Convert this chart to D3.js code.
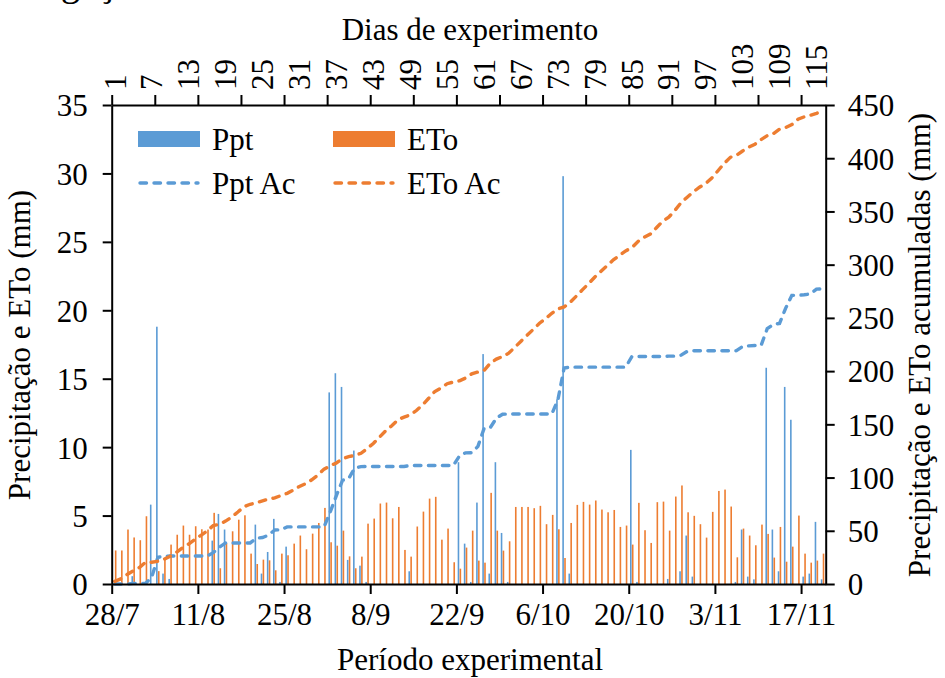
<!DOCTYPE html>
<html>
<head>
<meta charset="utf-8">
<script src="https://cdn.jsdelivr.net/npm/d3@7"></script>
<style>
  html, body { margin: 0; padding: 0; background: #fff; }
  svg { display: block; }
  text { font-family: "Liberation Serif", "Times New Roman", serif; fill: #000; }
</style>
</head>
<body>
<svg id="chart" width="945" height="678"></svg>
<script>
// Daily precipitation (mm), 28/7 to 20/11
const ppt = [
  0, 0, 0, 0.57, 0, 0, 5.8, 18.8, 0.76, 0.37,
  0, 0, 0, 0, 0, 0, 3.17, 5.12, 3.98, 0,
  0, 0, 0, 4.34, 0.76, 2.34, 4.76, 0.15, 2.73, 0,
  0, 0, 0, 0, 0, 14.0, 15.4, 14.4, 1.76, 9.75,
  1.34, 0.15, 0, 0, 0, 0, 0, 0, 0.93, 0,
  0, 0, 0, 0, 0, 0, 8.9, 2.95, 0.15, 5.95,
  16.8, 0.76, 8.9, 3.73, 0.15, 0, 0, 0, 0, 0,
  0, 0, 13.5, 29.8, 0.76, 0, 0, 0, 0, 0,
  0, 0, 0, 0, 9.8, 0.15, 0, 0, 0, 0,
  0.37, 0, 0.93, 3.54, 0.54, 0, 0, 0, 0, 0,
  0, 0.15, 3.98, 0.54, 0.34, 0, 15.8, 3.98, 0.93, 14.4,
  12.0, 0, 0.54, 0.76, 4.54, 0.34
];

// Daily reference evapotranspiration (mm)
const eto = [
  2.45, 2.45, 3.98, 3.4, 3.2, 4.95, 0, 0.94, 1.83, 2.88,
  3.6, 4.27, 3.6, 4.22, 4.0, 3.98, 5.2, 1.15, 3.0, 3.85,
  4.7, 5.02, 2.22, 1.46, 1.78, 1.73, 1.0, 2.22, 2.1, 2.95,
  3.54, 2.54, 3.68, 4.46, 5.56, 3.05, 2.8, 3.9, 2.02, 1.15,
  2.0, 4.41, 4.78, 5.88, 5.95, 4.8, 5.63, 2.49, 2.0, 4.2,
  5.29, 6.24, 6.37, 3.24, 4.05, 1.59, 1.12, 2.66, 3.9, 1.71,
  1.56, 6.66, 3.9, 2.44, 3.12, 5.63, 5.63, 5.63, 5.54, 5.71,
  4.37, 5.05, 4.0, 1.9, 4.46, 5.78, 6.0, 5.8, 6.1, 5.44,
  5.24, 5.41, 4.17, 4.27, 2.88, 5.93, 3.93, 3.0, 5.98, 6.02,
  3.9, 6.39, 7.2, 5.24, 4.98, 4.37, 3.39, 5.27, 6.8, 6.9,
  5.66, 1.95, 4.05, 3.54, 2.83, 4.34, 3.66, 1.93, 4.17, 1.63,
  2.73, 5.0, 2.22, 1.56, 1.71, 2.22
];

// Axis tick labels
const dateTicks = ["28/7", "11/8", "25/8", "8/9", "22/9", "6/10", "20/10", "3/11", "17/11"];
const dayTicks = [1, 7, 13, 19, 25, 31, 37, 43, 49, 55, 61, 67, 73, 79, 85, 91, 97, 103, 109, 115];
const leftTicks = [0, 5, 10, 15, 20, 25, 30, 35];
const rightTicks = [0, 50, 100, 150, 200, 250, 300, 350, 400, 450];

const seriesNames = ["Ppt", "ETo", "Ppt Ac", "ETo Ac"];
const blue = "#5B9BD5", orange = "#ED7D31";

// Running totals of the daily series
const pptAc = d3.cumsum(ppt);
const etoAc = d3.cumsum(eto);

const nDays = ppt.length;
const plot = { left: 111.7, right: 825.7, top: 105, bottom: 584 };
const fs = 31;

const svg = d3.select("#chart");

// Category position (day index) and calendar date scales share the same span
const xDay = d3.scaleLinear().domain([0, nDays]).range([plot.left, plot.right]);
const start = new Date(Date.UTC(2019, 6, 28));
const end = new Date(Date.UTC(2019, 6, 28 + nDays));
const xDate = d3.scaleUtc().domain([start, end]).range([plot.left, plot.right]);
const parseTick = s => { const [d, m] = s.split("/").map(Number); return new Date(Date.UTC(2019, m - 1, d)); };

const yL = d3.scaleLinear().domain([0, 35]).range([plot.bottom, plot.top]);
const yR = d3.scaleLinear().domain([0, 450]).range([plot.bottom, plot.top]);

const center = i => xDay(i + 0.5);
const barW = 1.6;

// Bars: precipitation on the left half of each day, ETo on the right half
const bars = svg.append("g");
bars.selectAll("rect.ppt").data(ppt).join("rect")
  .attr("class", "ppt")
  .attr("x", (d, i) => center(i) - barW - 0.2)
  .attr("width", barW)
  .attr("y", d => yL(d))
  .attr("height", d => yL(0) - yL(d))
  .attr("fill", blue);
bars.selectAll("rect.eto").data(eto).join("rect")
  .attr("class", "eto")
  .attr("x", (d, i) => center(i) + 0.1)
  .attr("width", barW)
  .attr("y", d => yL(d))
  .attr("height", d => yL(0) - yL(d))
  .attr("fill", orange);

// Accumulated lines on the secondary axis
const line = d3.line().x((d, i) => center(i)).y(d => yR(d));
const dash = "6.5 7.5";
svg.append("path").datum(pptAc).attr("d", line)
  .attr("fill", "none").attr("stroke", blue).attr("stroke-width", 3.4)
  .attr("stroke-dasharray", dash).attr("stroke-linecap", "round");
svg.append("path").datum(etoAc).attr("d", line)
  .attr("fill", "none").attr("stroke", orange).attr("stroke-width", 3.4)
  .attr("stroke-dasharray", dash).attr("stroke-linecap", "round");

function styleAxis(g) {
  g.selectAll(".domain").attr("stroke", "#000").attr("stroke-width", 2);
  g.selectAll(".tick line").attr("stroke", "#000").attr("stroke-width", 2);
  g.selectAll("text").style("font-size", fs + "px").attr("fill", "#000");
}

// Left axis
svg.append("g").attr("transform", `translate(${plot.left},0)`)
  .call(d3.axisLeft(yL).tickValues(leftTicks).tickSize(9).tickPadding(15).tickSizeOuter(0))
  .call(styleAxis)
  .call(g => g.selectAll("text").attr("dy", "0.35em"));

// Right axis
svg.append("g").attr("transform", `translate(${plot.right},0)`)
  .call(d3.axisRight(yR).tickValues(rightTicks).tickSize(9).tickPadding(13).tickSizeOuter(0))
  .call(styleAxis)
  .call(g => g.selectAll("text").attr("dy", "0.35em"));

// Bottom date axis
svg.append("g").attr("transform", `translate(0,${plot.bottom})`)
  .call(d3.axisBottom(xDate).tickValues(dateTicks.map(parseTick))
    .tickFormat((d, i) => dateTicks[i]).tickSize(10).tickPadding(9).tickSizeOuter(0))
  .call(styleAxis);

// Top axis: marks every 7 days, labels every 6 days
svg.append("g").attr("transform", `translate(0,${plot.top})`)
  .call(d3.axisTop(xDay).tickValues(d3.range(0, nDays, 7)).tickFormat("").tickSize(10).tickSizeOuter(0))
  .call(styleAxis);
svg.append("g").attr("transform", `translate(0,${plot.top})`)
  .call(d3.axisTop(xDay).tickValues(dayTicks.map(d => d - 0.5)).tickFormat(d => d + 0.5).tickSize(0).tickPadding(0))
  .call(styleAxis)
  .call(g => g.select(".domain").remove())
  .call(g => g.selectAll("text")
    .attr("transform", "translate(0,-15) rotate(-90)")
    .attr("text-anchor", "start").attr("dy", "0.33em").attr("y", 0).attr("x", 0));

// Axis titles
svg.append("text").attr("x", 470).attr("y", 40).attr("text-anchor", "middle")
  .style("font-size", fs + "px").text("Dias de experimento");
svg.append("text").attr("x", 470).attr("y", 670).attr("text-anchor", "middle")
  .style("font-size", fs + "px").text("Período experimental");
svg.append("text").attr("transform", "translate(30,345) rotate(-90)").attr("text-anchor", "middle")
  .style("font-size", fs + "px").text("Precipitação e ETo (mm)");
svg.append("text").attr("transform", "translate(930,345) rotate(-90)").attr("text-anchor", "middle")
  .style("font-size", fs + "px").text("Precipitação e ETo acumuladas (mm)");

// Title of the figure above, cut off by the top edge
svg.append("text").attr("x", 11).attr("y", -5.5).style("font-size", "39px").text("Irrigação");

// Legend
const legend = svg.append("g");
const legendItems = [
  { name: seriesNames[0], color: blue, kind: "bar", x: 138, y: 139 },
  { name: seriesNames[1], color: orange, kind: "bar", x: 333, y: 139 },
  { name: seriesNames[2], color: blue, kind: "line", x: 138, y: 183 },
  { name: seriesNames[3], color: orange, kind: "line", x: 333, y: 183 }
];
legendItems.forEach(it => {
  if (it.kind === "bar") {
    legend.append("rect").attr("x", it.x).attr("y", it.y - 8).attr("width", 62).attr("height", 16).attr("fill", it.color);
  } else {
    legend.append("line").attr("x1", it.x + 2).attr("x2", it.x + 60).attr("y1", it.y).attr("y2", it.y)
      .attr("stroke", it.color).attr("stroke-width", 3.4).attr("stroke-dasharray", dash).attr("stroke-linecap", "round");
  }
  legend.append("text").attr("x", it.x + 74).attr("y", it.y).attr("dy", "0.35em")
    .style("font-size", fs + "px").text(it.name);
});
</script>
</body>
</html>
